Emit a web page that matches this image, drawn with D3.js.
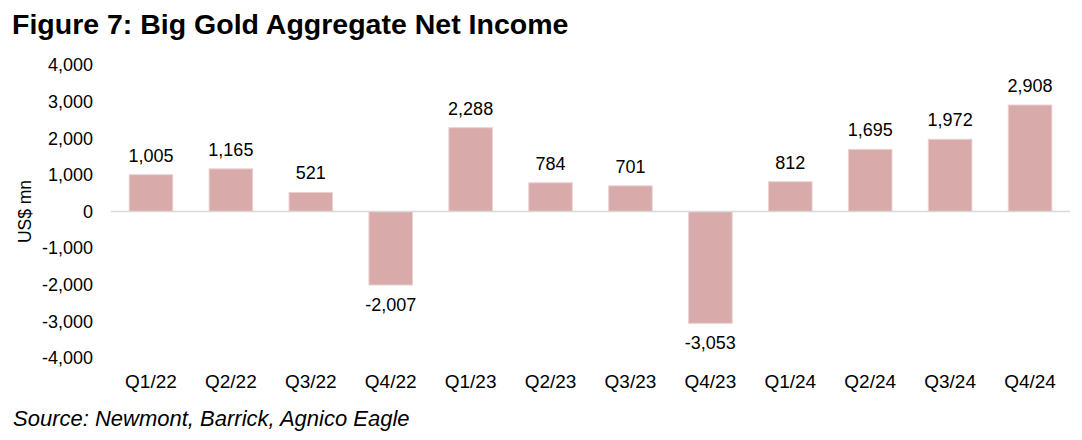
<!DOCTYPE html>
<html><head><meta charset="utf-8">
<script src="https://cdn.jsdelivr.net/npm/d3@7"></script>
<style>body{margin:0;background:#fff}svg{display:block}text{font-family:"Liberation Sans",Arial,sans-serif}</style>
</head><body>
<svg id="c" width="1082" height="440"></svg>
<script>
const categories = ["Q1/22","Q2/22","Q3/22","Q4/22","Q1/23","Q2/23","Q3/23","Q4/23","Q1/24","Q2/24","Q3/24","Q4/24"];
const netIncome = [1005,1165,521,-2007,2288,784,701,-3053,812,1695,1972,2908];
const yTicks = [-4000,-3000,-2000,-1000,0,1000,2000,3000,4000];
const title = "Figure 7: Big Gold Aggregate Net Income";
const source = "Source: Newmont, Barrick, Agnico Eagle";
const yLabel = "US$ mn";

const svg = d3.select("#c");
const x = d3.scaleBand().domain(categories).range([111,1070]).paddingInner(0.455).paddingOuter(0.2275);
const y = d3.scaleLinear().domain([-4000,4000]).range([358,65]);
const f0 = d3.format(",");
const fmt = d => f0(d).replace("\u2212","-");
const FONT = "'Liberation Sans',Arial,sans-serif";

svg.append("text").attr("x",12).attr("y",34).attr("font-size",28.5).attr("font-weight","bold").attr("fill","#000").text(title);

const yAxis = d3.axisLeft(y).tickValues(yTicks).tickFormat(fmt).tickSize(0).tickPadding(0);
const gy = svg.append("g").attr("transform","translate(93,0)").call(yAxis);
gy.select(".domain").remove();
gy.selectAll("text").attr("font-size",18).attr("fill","#000").attr("font-family",FONT);

svg.append("text").attr("transform","translate(31,"+y(0)+") rotate(-90)").attr("text-anchor","middle")
  .attr("font-size",17.5).attr("fill","#000").text(yLabel);

svg.append("g").selectAll("rect").data(netIncome).join("rect")
  .attr("x",(d,i)=>x(categories[i])).attr("width",x.bandwidth())
  .attr("y",d=>y(Math.max(0,d))).attr("height",d=>Math.abs(y(d)-y(0)))
  .attr("fill","#d8aaaa").attr("stroke","#ead2d2").attr("stroke-width",1);

svg.append("line").attr("x1",111).attr("x2",1070).attr("y1",y(0)).attr("y2",y(0)).attr("stroke","#d9d9d9").attr("stroke-width",1.5);

svg.append("g").selectAll("text").data(netIncome).join("text")
  .attr("x",(d,i)=>x(categories[i])+x.bandwidth()/2)
  .attr("y",d=>d>=0 ? y(d)-13 : y(d)+26)
  .attr("text-anchor","middle").attr("font-size",18).attr("fill","#000").text(d=>fmt(d));

const xAxis = d3.axisBottom(x).tickSize(0).tickPadding(0);
const gx = svg.append("g").attr("transform","translate(0,374.5)").call(xAxis);
gx.select(".domain").remove();
gx.selectAll("text").attr("font-size",19).attr("fill","#000").attr("font-family",FONT);

svg.append("text").attr("x",13).attr("y",426).attr("font-size",22).attr("font-style","italic").attr("fill","#000").text(source);
</script>
</body></html>
